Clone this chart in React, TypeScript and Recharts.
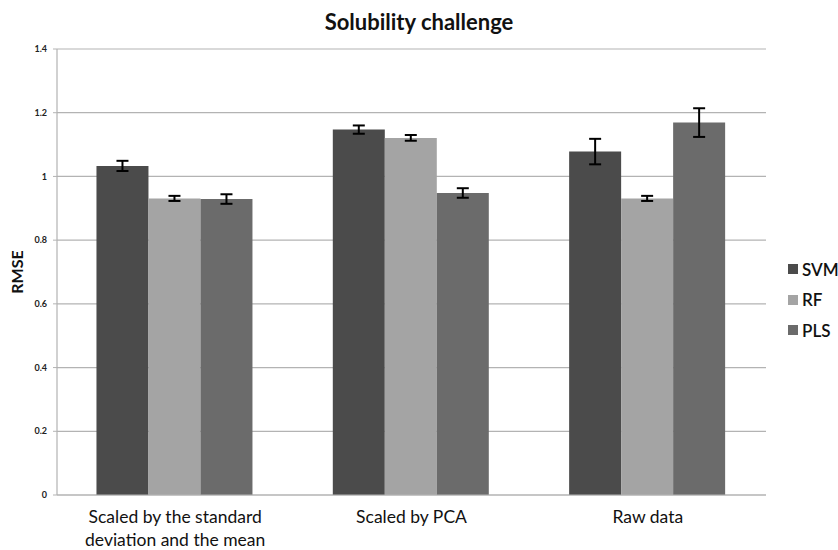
import { BarChart, Bar, XAxis, YAxis, CartesianGrid, ErrorBar, Text } from 'recharts';

const categories = ['Scaled by the standard deviation and the mean', 'Scaled by PCA', 'Raw data'];
const svm = [1.033, 1.147, 1.078];
const svmErr = [0.016, 0.013, 0.04];
const rf = [0.931, 1.121, 0.931];
const rfErr = [0.008, 0.009, 0.008];
const pls = [0.929, 0.948, 1.169];
const plsErr = [0.015, 0.015, 0.045];
const yTicks = [0, 0.2, 0.4, 0.6, 0.8, 1, 1.2, 1.4];

const series = [
  { key: 'svm', name: 'SVM', color: '#4b4b4b' },
  { key: 'rf', name: 'RF', color: '#a4a4a4' },
  { key: 'pls', name: 'PLS', color: '#6b6b6b' },
];

const data = categories.map((c, i) => ({
  category: c,
  svm: svm[i],
  svmErr: svmErr[i],
  rf: rf[i],
  rfErr: rfErr[i],
  pls: pls[i],
  plsErr: plsErr[i],
}));

const font = 'Lato, "Open Sans", sans-serif';

function CategoryTick(props: any) {
  const { x, y, payload } = props;
  return (
    <Text
      x={x}
      y={y + 8}
      width={200}
      textAnchor="middle"
      verticalAnchor="start"
      lineHeight={23}
      style={{ fontSize: 17.5, fill: '#111', fontFamily: font }}
    >
      {payload.value}
    </Text>
  );
}

export default function App() {
  return (
    <div style={{ position: 'absolute', left: 0, top: 0, width: 838, height: 550, background: '#fff', fontFamily: font, overflow: 'hidden' }}>
      <div style={{ position: 'absolute', left: 0, width: 838, top: 8, textAlign: 'center', fontSize: 22, fontWeight: 700, color: '#111' }}>
        Solubility challenge
      </div>
      <BarChart
        width={838}
        height={550}
        data={data}
        margin={{ top: 49, right: 72, bottom: 0, left: 0 }}
        barCategoryGap="16.7%"
        barGap={0}
      >
        <CartesianGrid vertical={false} stroke="#b3b3b3" strokeWidth={1.2} />
        <XAxis
          dataKey="category"
          height={55}
          tickLine={false}
          axisLine={{ stroke: '#b3b3b3', strokeWidth: 1.2 }}
          tick={<CategoryTick />}
          interval={0}
        />
        <YAxis
          width={57}
          domain={[0, 1.4]}
          ticks={yTicks}
          tickFormatter={(v: number) => String(Number(v.toFixed(1)))}
          tickSize={4}
          tickMargin={6}
          axisLine={{ stroke: '#b3b3b3', strokeWidth: 1.2 }}
          tickLine={{ stroke: '#b3b3b3' }}
          tick={{ fontSize: 9, fontWeight: 700, fill: '#222', fontFamily: font }}
          label={{ value: 'RMSE', angle: -90, position: 'insideLeft', offset: 17, style: { fontSize: 16, fontWeight: 700, fill: '#111', fontFamily: font, textAnchor: 'middle' } }}
        />
        {series.map((s) => (
          <Bar key={s.key} dataKey={s.key} name={s.name} fill={s.color} isAnimationActive={false}>
            <ErrorBar dataKey={s.key + 'Err'} width={6} stroke="#000" strokeWidth={2} />
          </Bar>
        ))}
      </BarChart>
      <div style={{ position: 'absolute', left: 788, top: 254 }}>
        {series.map((s) => (
          <div key={s.key} style={{ display: 'flex', alignItems: 'center', height: 30.5, fontSize: 17, fontWeight: 600, color: '#111' }}>
            <div style={{ width: 10, height: 10, background: s.color, marginRight: 4 }} />
            {s.name}
          </div>
        ))}
      </div>
    </div>
  );
}
